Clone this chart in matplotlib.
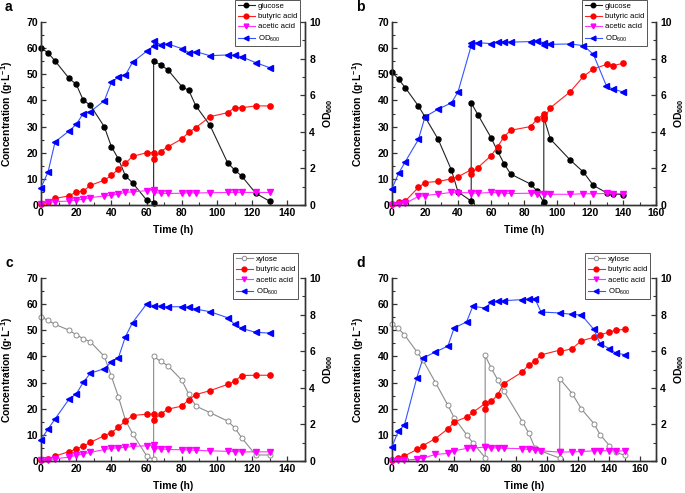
import matplotlib
matplotlib.use("Agg")
import matplotlib.pyplot as plt
from matplotlib.ticker import MultipleLocator
import numpy as np

plt.rcParams['font.family'] = ['Liberation Sans', 'DejaVu Sans']
plt.rcParams['mathtext.fontset'] = 'custom'
plt.rcParams['mathtext.rm'] = 'Liberation Sans'
plt.rcParams['mathtext.bf'] = 'Liberation Sans:bold'

# ---------------- Panel a ----------------
a_sugar_t = [0, 4, 8, 16, 20, 24, 28, 36, 40, 44, 48, 52, 60, 64, 64, 68, 72, 80, 84, 88, 96, 106, 110, 114, 122, 130]
a_sugar = [60.1, 58.2, 55.1, 48.4, 46.2, 40.1, 38.2, 29.9, 22.3, 17.6, 11.1, 8.5, 1.9, 0.9, 55.2, 53.5, 51.8, 45.3, 43.8, 37.9, 30.5, 16.2, 13.4, 11.1, 4.5, 1.4]
a_t = [0, 4, 8, 16, 20, 24, 28, 36, 40, 44, 48, 52, 60, 64, 64, 68, 72, 80, 84, 88, 96, 106, 110, 114, 122, 130]
a_butyric = [0.3, 1.3, 2.5, 3.5, 5.0, 5.3, 7.5, 9.5, 11.3, 13.8, 16.0, 18.6, 20.0, 20.0, 17.5, 20.4, 22.2, 25.3, 27.8, 29.6, 33.8, 35.3, 37.2, 37.2, 37.9, 37.9]
a_acetic = [0.2, 1.0, 1.3, 1.5, 1.9, 2.2, 2.8, 3.5, 3.7, 4.2, 4.8, 5.0, 5.5, 5.9, 4.8, 4.5, 4.4, 4.5, 4.7, 4.6, 4.7, 4.8, 4.8, 4.8, 4.8, 4.8]
a_od = [0.95, 1.8, 3.45, 4.05, 4.4, 5.0, 5.1, 5.7, 6.7, 7.0, 7.1, 7.8, 8.4, 8.7, 8.95, 8.76, 8.8, 8.55, 8.33, 8.38, 8.16, 8.2, 8.18, 8.1, 7.78, 7.5]

# ---------------- Panel b ----------------
b_sugar_t = [0, 4, 8, 16, 20, 28, 36, 40, 48, 48, 52, 60, 64, 68, 72, 84, 88, 92, 92, 96, 108, 116, 122, 130, 134, 140]
b_sugar = [50.9, 48.1, 44.9, 37.9, 33.7, 25.1, 13.4, 5.0, 1.5, 39.1, 34.6, 25.8, 20.6, 15.7, 11.8, 8.0, 5.3, 1.0, 33.5, 25.2, 17.2, 12.6, 7.5, 4.7, 4.3, 3.9]
b_t = [0, 4, 8, 16, 20, 28, 36, 40, 48, 48, 52, 60, 64, 68, 72, 84, 88, 92, 92, 96, 108, 116, 122, 130, 134, 140]
b_butyric = [0.2, 1.3, 1.5, 6.7, 8.6, 9.0, 10.0, 10.8, 13.5, 12.0, 14.3, 18.8, 22.3, 26.2, 28.6, 30.0, 32.9, 34.7, 33.0, 37.2, 43.3, 49.2, 52.0, 53.8, 53.3, 54.2]
b_acetic = [0.1, 0.3, 0.6, 3.3, 3.6, 4.2, 4.8, 4.7, 4.7, 4.6, 4.5, 4.8, 4.7, 4.5, 4.4, 4.5, 4.3, 4.2, 4.2, 4.1, 4.1, 4.3, 4.3, 4.4, 4.3, 4.3]
b_od = [0.9, 1.73, 2.36, 3.58, 4.82, 5.24, 5.58, 6.18, 8.7, 8.87, 8.87, 8.82, 8.9, 8.93, 8.9, 8.93, 8.96, 8.87, 8.73, 8.78, 8.8, 8.71, 8.24, 6.5, 6.33, 6.18]

# ---------------- Panel c ----------------
c_t = [0, 4, 8, 16, 20, 24, 28, 36, 40, 44, 48, 52, 60, 64, 64, 68, 72, 80, 84, 88, 96, 106, 110, 114, 122, 130]
c_sugar = [55.1, 53.8, 52.3, 50.0, 48.3, 46.8, 45.6, 40.0, 32.4, 24.5, 15.6, 10.5, 2.0, 0.6, 40.0, 38.1, 36.5, 30.9, 25.5, 21.0, 18.5, 15.3, 12.8, 8.9, 2.3, 2.3]
c_butyric = [0.2, 0.7, 1.9, 3.6, 4.6, 5.7, 7.1, 9.7, 10.8, 13.0, 15.3, 17.4, 17.9, 17.9, 15.8, 17.9, 19.8, 21.0, 23.5, 25.4, 26.9, 29.3, 30.5, 32.7, 32.8, 32.8]
c_acetic = [0.2, 0.4, 0.8, 1.5, 2.2, 2.7, 3.3, 4.4, 4.8, 5.1, 5.2, 5.6, 5.8, 6.1, 4.7, 4.7, 4.4, 4.3, 4.2, 4.1, 3.9, 3.7, 3.6, 3.5, 3.5, 3.5]
c_od_t = [0, 4, 8, 16, 20, 24, 28, 36, 40, 44, 48, 52, 60, 64, 68, 72, 80, 84, 88, 96, 106, 110, 114, 122, 130]
c_od = [1.17, 1.75, 2.3, 3.39, 3.66, 4.3, 4.79, 5.05, 5.41, 5.65, 6.8, 7.56, 8.58, 8.49, 8.45, 8.43, 8.43, 8.4, 8.3, 8.16, 7.83, 7.47, 7.25, 7.03, 6.99]

# ---------------- Panel d ----------------
d_sugar_t = [0, 4, 8, 16, 20, 28, 36, 40, 48, 52, 60, 60, 64, 68, 72, 84, 88, 92, 96, 108, 108, 116, 122, 130, 134, 140, 144, 150]
d_sugar = [52.5, 50.7, 48.3, 41.8, 38.5, 30.0, 21.3, 16.6, 10.1, 7.0, 1.3, 40.4, 35.4, 31.1, 26.8, 15.0, 10.7, 5.1, 3.8, 1.1, 31.5, 25.8, 19.9, 14.3, 10.1, 5.9, 3.3, 2.2]
d_t = [0, 4, 8, 16, 20, 28, 36, 40, 48, 52, 60, 60, 64, 68, 72, 84, 88, 92, 96, 108, 108, 116, 122, 130, 134, 140, 144, 150]
d_butyric = [0.2, 1.0, 1.9, 4.4, 5.9, 8.6, 12.3, 14.9, 16.8, 18.6, 22.0, 20.0, 22.8, 25.3, 29.6, 34.1, 36.8, 38.1, 40.6, 42.4, 41.8, 43.0, 46.0, 47.3, 48.3, 49.3, 50.0, 50.4]
d_acetic = [0.1, 0.2, 0.3, 0.7, 1.1, 2.5, 2.9, 3.9, 4.8, 5.0, 5.3, 5.2, 5.0, 5.0, 4.9, 4.7, 4.4, 4.3, 3.9, 3.4, 3.4, 3.5, 3.6, 3.9, 4.0, 3.9, 3.8, 3.9]
d_od_t = [0, 4, 8, 16, 20, 28, 36, 40, 48, 52, 60, 64, 68, 72, 84, 88, 92, 96, 108, 116, 122, 130, 134, 140, 144, 150]
d_od = [0.78, 1.62, 1.97, 4.55, 5.63, 5.96, 6.28, 7.27, 7.6, 8.45, 8.36, 8.67, 8.72, 8.76, 8.82, 8.83, 8.87, 8.14, 8.09, 8.01, 7.98, 7.19, 6.41, 6.14, 5.9, 5.81]

panels = [
    dict(letter='a', sugar_name='glucose', sugar_t=a_sugar_t, sugar=a_sugar, t=a_t, but=a_butyric, ace=a_acetic,
         od_t=a_t, od=a_od, xmax=150, xlab=140, rect=[41, 22, 305, 205], leg=(300, 0)),
    dict(letter='b', sugar_name='glucose', sugar_t=b_sugar_t, sugar=b_sugar, t=b_t, but=b_butyric, ace=b_acetic,
         od_t=b_t, od=b_od, xmax=160, xlab=160, rect=[392, 22, 656, 205], leg=(647, 0)),
    dict(letter='c', sugar_name='xylose', sugar_t=c_t, sugar=c_sugar, t=c_t, but=c_butyric, ace=c_acetic,
         od_t=c_od_t, od=c_od, xmax=150, xlab=140, rect=[41, 278, 305, 461], leg=(298, 253)),
    dict(letter='d', sugar_name='xylose', sugar_t=d_sugar_t, sugar=d_sugar, t=d_t, but=d_butyric, ace=d_acetic,
         od_t=d_od_t, od=d_od, xmax=170, xlab=160, rect=[392, 278, 656, 461], leg=(650, 253)),
]

W, H = 685, 493
fig = plt.figure(figsize=(W / 100, H / 100), dpi=100)

spine_col = '#333333'

for p in panels:
    x0, y0, x1, y1 = p['rect']
    ax = fig.add_axes([x0 / W, 1 - y1 / H, (x1 - x0) / W, (y1 - y0) / H])
    ax2 = ax.twinx()
    ax.set_xlim(0, p['xmax'])
    ax.set_ylim(0, 70)
    ax2.set_ylim(0, 10)
    ax.spines['top'].set_visible(False)
    ax2.spines['top'].set_visible(False)
    for a_ in (ax, ax2):
        for s in a_.spines.values():
            s.set_color(spine_col)
            s.set_linewidth(1.0)
    ax.set_xticks(np.arange(0, p['xlab'] + 1, 20))
    ax.xaxis.set_minor_locator(MultipleLocator(10))
    ax.yaxis.set_major_locator(MultipleLocator(10))
    ax.yaxis.set_minor_locator(MultipleLocator(5))
    ax2.yaxis.set_major_locator(MultipleLocator(2))
    ax2.yaxis.set_minor_locator(MultipleLocator(1))
    ax.tick_params(axis='both', which='major', direction='in', length=3.5, width=0.9, color=spine_col, pad=2, labelsize=7.5)
    ax.tick_params(axis='both', which='minor', direction='in', length=2, width=0.8, color=spine_col)
    ax.tick_params(axis='y', which='both', right=False)
    ax.tick_params(axis='x', which='both', top=False)
    ax2.tick_params(axis='y', which='major', direction='in', length=3.5, width=0.9, color=spine_col, pad=3, labelsize=7.5)
    ax2.tick_params(axis='y', which='minor', direction='in', length=2, width=0.8, color=spine_col)
    for lab in ax.get_xticklabels() + ax.get_yticklabels() + ax2.get_yticklabels():
        lab.set_fontweight('bold')

    if p['sugar_name'] == 'glucose':
        hs, = ax.plot(p['sugar_t'], p['sugar'], color='#222222', lw=0.8, marker='o', ms=3.6,
                      mfc='black', mec='black', clip_on=False, zorder=4)
    else:
        hs, = ax.plot(p['sugar_t'], p['sugar'], color='#8c8c8c', lw=0.8, marker='o', ms=3.6,
                      mfc='white', mec='#8c8c8c', mew=0.7, clip_on=False, zorder=4)
    hb, = ax.plot(p['t'], p['but'], color='#ff2020', lw=0.8, marker='o', ms=3.8,
                  mfc='#ff0000', mec='#ff0000', clip_on=False, zorder=4)
    ha, = ax.plot(p['t'], p['ace'], color='#ff33ff', lw=0.8, marker='v', ms=3.8,
                  mfc='#ff00ff', mec='#ff00ff', clip_on=False, zorder=4)
    ho, = ax2.plot(p['od_t'], p['od'], color='#3355ff', lw=0.8, marker='<', ms=3.8,
                   mfc='#0000ff', mec='#0000ff', clip_on=False, zorder=4)

    ax.set_xlabel('Time (h)', fontsize=7.5, fontweight='bold')
    ax.xaxis.set_label_coords(0.5, -0.112)
    ax.set_ylabel('Concentration (g·L$\\mathbf{^{-1}}$)', fontsize=7.5, fontweight='bold')
    ax.yaxis.set_label_coords(-0.098, 0.5)
    ax2.set_ylabel('OD$\\mathbf{_{600}}$', fontsize=7.5, fontweight='bold', rotation=90)
    ax2.yaxis.set_label_coords(1.06, 0.5)

    lx, ly = p['leg']
    leg = ax.legend([hs, hb, ha, ho], [p['sugar_name'], 'butyric acid', 'acetic acid', 'OD$_{600}$'],
                    loc='upper right', bbox_to_anchor=(lx / W, 1 - ly / H), bbox_transform=fig.transFigure,
                    fontsize=5.6, frameon=True, fancybox=False, edgecolor='#555555', framealpha=1,
                    handlelength=2.2, handletextpad=0.4, labelspacing=0.35, borderpad=0.35,
                    borderaxespad=0, markerscale=0.9)
    leg.get_frame().set_linewidth(0.7)
    leg.set_zorder(10)

    fig.text((x0 - 36) / W, 1 - (y0 - 15) / H, p['letter'], fontsize=10, fontweight='bold',
             ha='left', va='center')

fig.savefig('out.png', dpi=100)
